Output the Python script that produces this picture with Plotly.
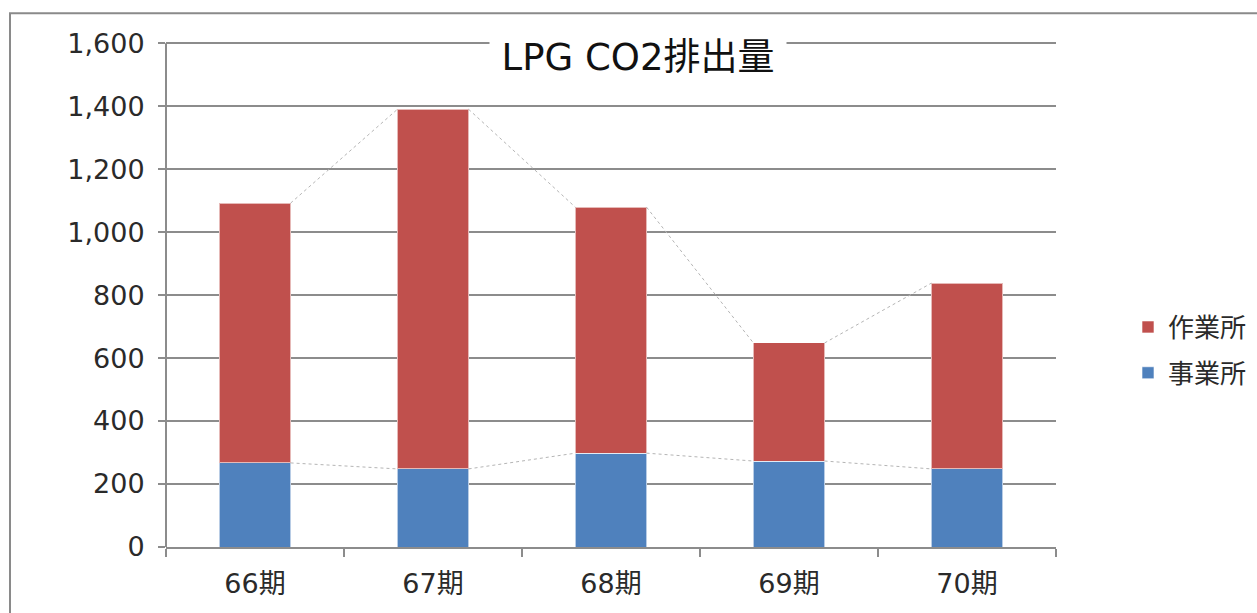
import plotly.graph_objects as go

categories = ["66期", "67期", "68期", "69期", "70期"]
jigyosho = [267, 248, 298, 273, 248]      # 事業所 (blue, bottom)
sagyosho = [825, 1142, 781, 375, 590]     # 作業所 (red, top)
y_ticks = [0, 200, 400, 600, 800, 1000, 1200, 1400, 1600]
title_text = "LPG CO2排出量"

BLUE = "#4F81BD"
RED = "#C0504D"
GRID = "#8c8c8c"
FONT = "DejaVu Sans, Noto Sans CJK JP, sans-serif"
TXT = "#2a2a2a"
W = 0.4

xs = list(range(len(categories)))
totals = [a + b for a, b in zip(jigyosho, sagyosho)]

fig = go.Figure()
fig.add_trace(go.Bar(x=xs, y=jigyosho, name="事業所", width=W, legendgroup="b", legendrank=2,
                     marker=dict(color=BLUE, line=dict(color="rgba(255,255,255,0.6)", width=1))))
fig.add_trace(go.Bar(x=xs, y=sagyosho, name="作業所", width=W, legendgroup="a", legendrank=1,
                     marker=dict(color=RED, line=dict(color="rgba(255,255,255,0.6)", width=1))))

# series lines (Excel style), from right edge of one bar to left edge of the next
for series in (jigyosho, totals):
    lx, ly = [], []
    for i in range(len(xs) - 1):
        lx += [xs[i] + W / 2, xs[i + 1] - W / 2, None]
        ly += [series[i], series[i + 1], None]
    fig.add_trace(go.Scatter(x=lx, y=ly, mode="lines", showlegend=False, hoverinfo="skip",
                             line=dict(color="#b5b5b5", width=1, dash="dot")))

# pixel layout: x axis from 166 to 1056, value 0 at row 547, 1600 at row 43
L, R, B = 166, 201, 66
YMAX = 1610
PH = 504 * YMAX / 1600
T = 613 - B - PH
PW = 1257 - L - R

def py(pix):
    # pixel row -> paper y
    return (613 - B - pix) / PH

fig.update_layout(
    width=1257, height=613,
    margin=dict(l=L, r=R, t=T, b=B, autoexpand=False),
    barmode="stack",
    paper_bgcolor="white", plot_bgcolor="white",
    font=dict(family=FONT, color=TXT),
    legend=dict(traceorder="grouped", tracegroupgap=9, x=(1128 - L) / PW, y=py(350),
                xanchor="left", yanchor="middle", font=dict(size=26, color=TXT),
                bgcolor="rgba(0,0,0,0)"),
    xaxis=dict(range=[-0.5, len(categories) - 0.5], tickmode="array", tickvals=xs,
               ticktext=categories, ticks="", showgrid=False, zeroline=False,
               showline=True, linecolor=GRID, linewidth=2,
               tickfont=dict(size=27, color=TXT), ticklabelstandoff=12,
               minor=dict(tickmode="array", tickvals=[i - 0.5 for i in range(len(categories) + 1)],
                          ticks="outside", ticklen=8, tickwidth=2, tickcolor=GRID, showgrid=False)),
    yaxis=dict(range=[0, YMAX], tickmode="array", tickvals=y_ticks, tickformat=",",
               ticks="outside", ticklen=7, tickwidth=2, tickcolor=GRID,
               showline=False,
               showgrid=True, gridcolor=GRID, gridwidth=2, zeroline=False,
               tickfont=dict(size=27, color=TXT), ticklabelstandoff=8),
    shapes=[dict(type="rect", xref="paper", yref="paper",
                 x0=(10 - L) / PW, x1=(1300 - L) / PW,
                 y0=py(700), y1=py(13),
                 line=dict(color="#8a8a8a", width=2), fillcolor="rgba(0,0,0,0)", layer="below"),
            dict(type="line", xref="paper", yref="y", x0=0, x1=0, y0=0, y1=y_ticks[-1],
                 line=dict(color=GRID, width=2))],
    annotations=[dict(text=title_text, xref="paper", yref="paper",
                      x=(638 - L) / PW, y=py(57), xanchor="center", yanchor="middle",
                      showarrow=False, bgcolor="white", width=294, height=40,
                      font=dict(size=37, color="#111111", family=FONT))],
)

fig.write_html("out.html")
